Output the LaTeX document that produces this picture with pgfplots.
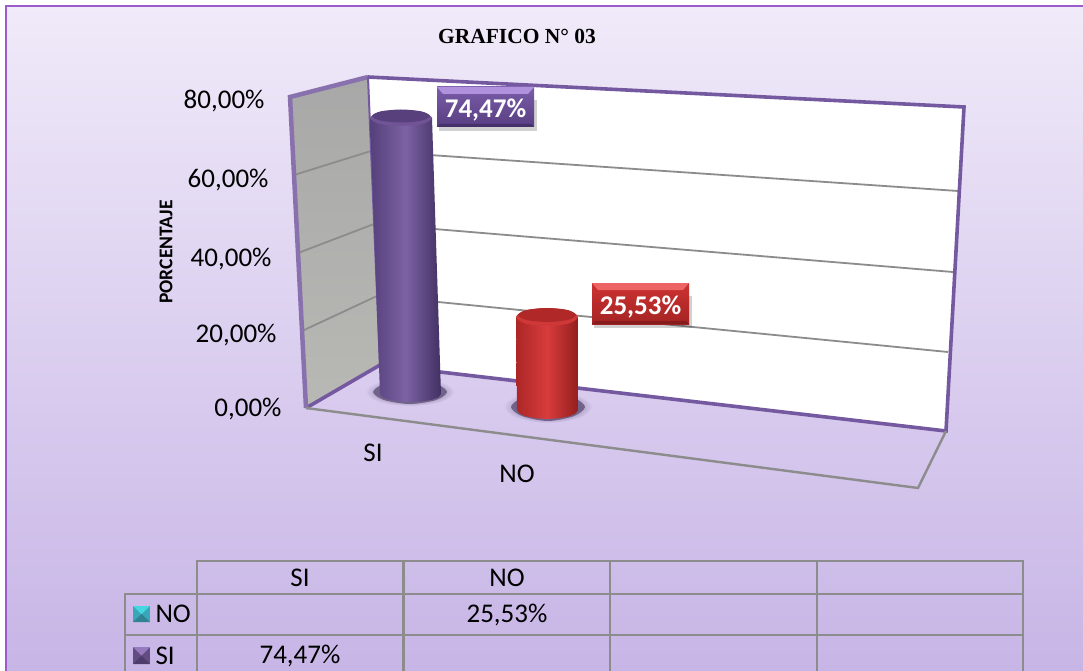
\documentclass[border=0pt]{standalone}
\usepackage{fontspec}
\setmainfont{Carlito}
\newfontfamily\titlefont{Liberation Serif}
\usepackage{pgfplots}
\pgfplotsset{compat=1.18}
\definecolor{wallline}{HTML}{7458A0}
\definecolor{gridg}{HTML}{8C8C8C}
\definecolor{frameline}{HTML}{9A5CCB}
\newcommand{\fs}[1]{\fontsize{#1}{#1}\selectfont}
\begin{document}
\begin{tikzpicture}
% axis runs in picture pixels, y downwards, since the chart is an oblique 3D view
\begin{axis}[
    scale only axis,
    width=1083pt,
    height=671pt,
    xmin=0, xmax=1083,
    ymin=0, ymax=671,
    y dir=reverse,
    hide axis,
    no markers,
    every axis plot/.append style={line join=miter},
]
% background
\addplot[draw=none, shade, top color=white, bottom color=white] coordinates {(0,0)(1083,0)(1083,671)(0,671)} --cycle;
\addplot[draw=none, shade, top color={rgb,255:red,240;green,234;blue,249}, bottom color={rgb,255:red,199;green,181;blue,230}] coordinates {(6,6)(1083,6)(1083,671)(6,671)} --cycle;
\addplot[frameline, line width=1.5pt] coordinates {(6,671)(6,6)(1083,6)};

% walls
\addplot[draw=none, shade, top color={rgb,255:red,168;green,168;blue,168}, bottom color={rgb,255:red,184;green,184;blue,180}] coordinates {(290,97)(368,77)(380,365)(306,408)} --cycle;
\addplot[draw=none, fill=white] coordinates {(368,77)(964,107)(946,431)(380,365)} --cycle;

% gridlines 60, 40, 20
\addplot[gridg, line width=1.8pt] coordinates {(294,175)(371,151)(958,191)};
\addplot[gridg, line width=1.8pt] coordinates {(298,253)(374,224)(953,272)};
\addplot[gridg, line width=1.8pt] coordinates {(302,331)(377,296)(948,352)};

% wall outlines
\addplot[wallline, line width=3.6pt] coordinates {(368,77)(964,107)(946,431)(380,365)(306,408)};
\addplot[wallline!85, line width=4.5pt] coordinates {(306,408)(290,97)(368,77)};
\addplot[wallline, line width=2pt] coordinates {(368,77)(380,365)};
% floor
\addplot[gridg, line width=2.4pt] coordinates {(306,408)(918,488)(946,431)};

% shadows under the cylinders
\addplot[draw=none, shading=radial, inner color={rgb,255:red,70;green,55;blue,95}, outer color={rgb,255:red,214;green,200;blue,236}, /tikz/smooth cycle] coordinates {(366,392)(379,382)(410,378)(441,382)(454,392)(441,402)(410,406)(379,402)};
\addplot[draw=none, shading=radial, inner color={rgb,255:red,70;green,55;blue,95}, outer color={rgb,255:red,214;green,200;blue,236}, /tikz/smooth cycle] coordinates {(504,407)(517,396)(548,391)(579,396)(592,407)(579,418)(548,423)(517,418)};
\addplot[draw=none, fill={rgb,255:red,112;green,98;blue,136}, /tikz/smooth cycle] coordinates {(373,392)(384,384)(410,381)(436,384)(447,392)(436,400)(410,404)(384,400)};
\addplot[draw=none, fill={rgb,255:red,112;green,98;blue,136}, /tikz/smooth cycle] coordinates {(511,407)(522,398)(548,394)(574,398)(585,407)(574,416)(548,421)(522,416)};

% SI 74,47%
\addplot[draw=none, shade, left color={rgb,255:red,84;green,64;blue,122}, right color={rgb,255:red,66;green,48;blue,98}, middle color={rgb,255:red,124;green,98;blue,164}] coordinates {(370,118)(380,394)(382.3,397.1)(388.9,399.7)(398.8,401.4)(410.5,402)(422.2,401.4)(432.1,399.7)(438.7,397.1)(441,394)(432,118)} --cycle;
\addplot[draw=none, fill={rgb,255:red,112;green,84;blue,150}, /tikz/smooth cycle] coordinates {(370,118)(379.1,112.3)(401,110)(422.9,112.3)(432,118)(422.9,123.7)(401,126)(379.1,123.7)};
\addplot[draw=none, fill={rgb,255:red,88;green,64;blue,124}, /tikz/smooth cycle] coordinates {(372,116)(380.5,111.4)(401,109.5)(421.5,111.4)(430,116)(421.5,120.6)(401,122.5)(380.5,120.6)};

% NO 25,53%
\addplot[draw=none, shade, left color={rgb,255:red,172;green,38;blue,38}, right color={rgb,255:red,148;green,30;blue,30}, middle color={rgb,255:red,216;green,60;blue,60}] coordinates {(516,317)(517,410)(519.3,413.4)(525.9,416.4)(535.8,418.3)(547.5,419)(559.2,418.3)(569.1,416.4)(575.7,413.4)(578,410)(578,317)} --cycle;
\addplot[draw=none, fill={rgb,255:red,208;green,56;blue,56}, /tikz/smooth cycle] coordinates {(516,317)(525.1,310.6)(547,308)(568.9,310.6)(578,317)(568.9,323.4)(547,326)(525.1,323.4)};
\addplot[draw=none, fill={rgb,255:red,176;green,40;blue,40}, /tikz/smooth cycle] coordinates {(518,315)(526.5,310)(547,308)(567.5,310)(576,315)(567.5,320)(547,322)(526.5,320)};

% value boxes
\addplot[draw=none, fill=black, opacity=0.18] coordinates {(439,100)(537,100)(537,131)(439,131)} --cycle;
\addplot[draw=none, shade, top color={rgb,255:red,122;green,92;blue,168}, bottom color={rgb,255:red,88;green,62;blue,130}] coordinates {(437,87)(534,87)(534,127)(437,127)} --cycle;
\addplot[draw=none, fill={rgb,255:red,176;green,145;blue,222}] coordinates {(437,87)(534,87)(528,94)(443,94)} --cycle;
\addplot[draw=none, fill={rgb,255:red,70;green,48;blue,105}] coordinates {(437,127)(534,127)(531,124)(440,124)} --cycle;

\addplot[draw=none, fill=black, opacity=0.18] coordinates {(594,296)(692,296)(692,328)(594,328)} --cycle;
\addplot[draw=none, shade, top color={rgb,255:red,205;green,50;blue,50}, bottom color={rgb,255:red,165;green,36;blue,36}] coordinates {(592,283)(689,283)(689,324)(592,324)} --cycle;
\addplot[draw=none, fill={rgb,255:red,236;green,100;blue,100}] coordinates {(592,283)(689,283)(683,290)(598,290)} --cycle;
\addplot[draw=none, fill={rgb,255:red,135;green,28;blue,28}] coordinates {(592,324)(689,324)(686,321)(595,321)} --cycle;

% data table
\addplot[gridg, line width=2.2pt] coordinates {(197,671)(197,561)(1023,561)(1023,671)};
\addplot[gridg, line width=2.2pt] coordinates {(125,671)(125,594)(1023,594)};
\addplot[gridg, line width=2.2pt] coordinates {(125,635)(1023,635)};
\addplot[gridg, line width=2.2pt] coordinates {(403.5,561)(403.5,671)};
\addplot[gridg, line width=2.2pt] coordinates {(610,561)(610,671)};
\addplot[gridg, line width=2.2pt] coordinates {(817,561)(817,671)};

% legend keys in the table
\addplot[draw=none, fill={rgb,255:red,56;green,168;blue,184}] coordinates {(133,606)(150,606)(150,622)(133,622)} --cycle;
\addplot[draw=none, fill={rgb,255:red,70;green,214;blue,226}] coordinates {(133,606)(150,606)(141.5,614)} --cycle;
\addplot[draw=none, fill={rgb,255:red,48;green,130;blue,146}] coordinates {(133,622)(150,622)(141.5,614)} --cycle;
\addplot[draw=none, fill={rgb,255:red,98;green,76;blue,130}] coordinates {(133,647)(150,647)(150,664)(133,664)} --cycle;
\addplot[draw=none, fill={rgb,255:red,150;green,122;blue,190}] coordinates {(133,647)(150,647)(141.5,655.5)} --cycle;
\addplot[draw=none, fill={rgb,255:red,78;green,60;blue,108}] coordinates {(133,664)(150,664)(141.5,655.5)} --cycle;

% texts
\node[font=\titlefont\bfseries\fs{21.5}] at (517,36) {GRAFICO N° 03};
\node[font=\bfseries\fs{19.5}, rotate=90] at (166,252) {PORCENTAJE};
\node[font=\fs{27}, anchor=east] at (268,101) {80,00\%};
\node[font=\fs{27}, anchor=east] at (272,180) {60,00\%};
\node[font=\fs{27}, anchor=east] at (275,259) {40,00\%};
\node[font=\fs{27}, anchor=east] at (280,335) {20,00\%};
\node[font=\fs{27}, anchor=east] at (285,409) {0,00\%};
\node[font=\fs{27}] at (373,453) {SI};
\node[font=\fs{27}] at (517,474) {NO};
\node[font=\bfseries\fs{27}, text=white] at (485.5,110) {74,47\%};
\node[font=\bfseries\fs{27}, text=white] at (640.5,307) {25,53\%};
\node[font=\fs{27}] at (300,578) {SI};
\node[font=\fs{27}] at (507,578) {NO};
\node[font=\fs{27}, anchor=west] at (152,614) {NO};
\node[font=\fs{27}, anchor=west] at (152,656) {SI};
\node[font=\fs{27}] at (507,615) {25,53\%};
\node[font=\fs{27}] at (300,656) {74,47\%};
\end{axis}
\end{tikzpicture}
\end{document}
